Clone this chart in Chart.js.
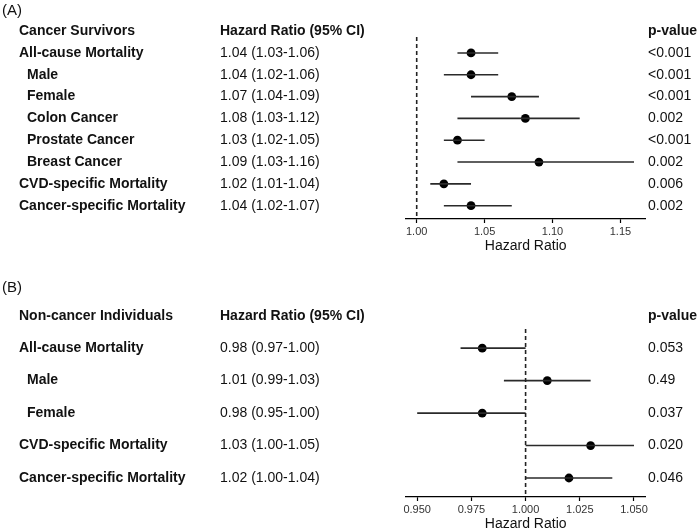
<!DOCTYPE html>
<html>
<head>
<meta charset="utf-8">
<script src="https://cdn.jsdelivr.net/npm/chart.js@4.4.1/dist/chart.umd.min.js"></script>
<style>
  body { margin: 0; background: #fff; }
  #wrap { position: relative; width: 700px; height: 530px; }
  canvas { position: absolute; left: 0; }
  #chartA { top: 0; }
  #chartB { top: 265px; }
</style>
</head>
<body>
<div id="wrap">
  <canvas id="chartA" width="700" height="265"></canvas>
  <canvas id="chartB" width="700" height="265"></canvas>
</div>
<script>
// Panel A - cancer survivors
const labelsA = ["All-cause Mortality", "Male", "Female", "Colon Cancer", "Prostate Cancer", "Breast Cancer", "CVD-specific Mortality", "Cancer-specific Mortality"];
const indentA = [0, 1, 1, 1, 1, 1, 0, 0];
const hrA = [1.04, 1.04, 1.07, 1.08, 1.03, 1.09, 1.02, 1.04];
const lowA = [1.03, 1.02, 1.04, 1.03, 1.02, 1.03, 1.01, 1.02];
const highA = [1.06, 1.06, 1.09, 1.12, 1.05, 1.16, 1.04, 1.07];
const pA = ["<0.001", "<0.001", "<0.001", "0.002", "<0.001", "0.002", "0.006", "0.002"];
const ticksA = [1.00, 1.05, 1.10, 1.15];

// Panel B - non-cancer individuals
const labelsB = ["All-cause Mortality", "Male", "Female", "CVD-specific Mortality", "Cancer-specific Mortality"];
const indentB = [0, 1, 1, 0, 0];
const hrB = [0.98, 1.01, 0.98, 1.03, 1.02];
const lowB = [0.97, 0.99, 0.95, 1.00, 1.00];
const highB = [1.00, 1.03, 1.00, 1.05, 1.04];
const pB = ["0.053", "0.49", "0.037", "0.020", "0.046"];
const ticksB = [0.950, 0.975, 1.000, 1.025, 1.050];

const FONT = '"Liberation Sans", Arial, Helvetica, sans-serif';
const TEXT = '#111';

// draws the text columns next to the plot, rows placed with the y scale
const forestText = {
    id: 'forestText',
    afterDraw(chart, args, opts) {
        const ctx = chart.ctx;
        const y = chart.scales.y;
        ctx.save();
        ctx.fillStyle = TEXT;
        ctx.textBaseline = 'middle';
        ctx.textAlign = 'left';

        ctx.font = '15px ' + FONT;
        ctx.fillText(opts.panel, 2, opts.panelY);

        // header row
        const hy = y.getPixelForValue(0);
        ctx.font = 'bold 14px ' + FONT;
        ctx.fillText(opts.group, 19, hy);
        ctx.fillText("Hazard Ratio (95% CI)", 220, hy);
        ctx.fillText("p-value", 648, hy);

        opts.labels.forEach((label, i) => {
            const ry = y.getPixelForValue(i + 1);
            ctx.font = 'bold 14px ' + FONT;
            ctx.fillText(label, opts.indent[i] ? 27 : 19, ry);
            ctx.font = '14px ' + FONT;
            const txt = `${opts.hr[i].toFixed(2)} (${opts.low[i].toFixed(2)}-${opts.high[i].toFixed(2)})`;
            ctx.fillText(txt, 220, ry);
            ctx.fillText(opts.p[i], 648, ry);
        });
        ctx.restore();
    }
};

function makeForest(canvasId, cfg) {
    const datasets = [];

    // dashed line at HR = 1
    datasets.push({
        data: [{ x: 1, y: cfg.yMin }, { x: 1, y: cfg.yMax }],
        showLine: true,
        borderColor: '#222',
        borderWidth: 1.6,
        borderDash: [4, 3],
        pointRadius: 0,
    });

    // confidence intervals
    cfg.hr.forEach((v, i) => {
        datasets.push({
            data: [{ x: cfg.low[i], y: i + 1 }, { x: cfg.high[i], y: i + 1 }],
            showLine: true,
            borderColor: '#2a2a2a',
            borderWidth: 1.6,
            pointRadius: 0,
        });
    });

    // point estimates
    datasets.push({
        data: cfg.hr.map((v, i) => ({ x: v, y: i + 1 })),
        pointRadius: 4.4,
        backgroundColor: '#000',
        borderWidth: 0,
    });

    return new Chart(document.getElementById(canvasId), {
        type: 'scatter',
        data: { datasets: datasets },
        plugins: [forestText],
        options: {
            responsive: false,
            animation: false,
            devicePixelRatio: 1,
            layout: { padding: cfg.padding },
            plugins: {
                legend: { display: false },
                tooltip: { enabled: false },
                forestText: {
                    panel: cfg.panel,
                    panelY: cfg.panelY,
                    group: cfg.group,
                    labels: cfg.labels,
                    indent: cfg.indent,
                    hr: cfg.hr,
                    low: cfg.low,
                    high: cfg.high,
                    p: cfg.p,
                }
            },
            scales: {
                x: {
                    type: 'linear',
                    min: cfg.xMin,
                    max: cfg.xMax,
                    afterBuildTicks: s => { s.ticks = cfg.ticks.map(v => ({ value: v })); },
                    afterFit: s => { s.height = 33; },
                    grid: { drawOnChartArea: false, tickLength: 4, color: '#000', tickWidth: 1.2 },
                    border: { display: true, color: '#000', width: 1.3 },
                    ticks: {
                        color: '#333',
                        padding: 2,
                        maxRotation: 0,
                        font: { size: 11, family: FONT },
                        callback: v => v.toFixed(cfg.digits)
                    },
                    title: {
                        display: true,
                        text: 'Hazard Ratio',
                        color: TEXT,
                        padding: 0,
                        font: { size: 14, family: FONT, lineHeight: 0.8 }
                    }
                },
                y: {
                    type: 'linear',
                    display: false,
                    reverse: true,
                    min: cfg.yMin,
                    max: cfg.yMax,
                }
            }
        }
    });
}

makeForest('chartA', {
    panel: '(A)', panelY: 11, group: 'Cancer Survivors',
    labels: labelsA, indent: indentA, hr: hrA, low: lowA, high: highA, p: pA,
    ticks: ticksA, digits: 2,
    xMin: 0.9919, xMax: 1.1686,
    yMin: 0.27, yMax: 8.61,
    padding: { left: 405.7, right: 54.3, top: 37, bottom: 13 }
});

makeForest('chartB', {
    panel: '(B)', panelY: 23, group: 'Non-cancer Individuals',
    labels: labelsB, indent: indentB, hr: hrB, low: lowB, high: highB, p: pB,
    ticks: ticksB, digits: 3,
    xMin: 0.9447, xMax: 1.0554,
    yMin: 0.41, yMax: 5.585,
    padding: { left: 405.7, right: 54.3, top: 64, bottom: 0 }
});
</script>
</body>
</html>
